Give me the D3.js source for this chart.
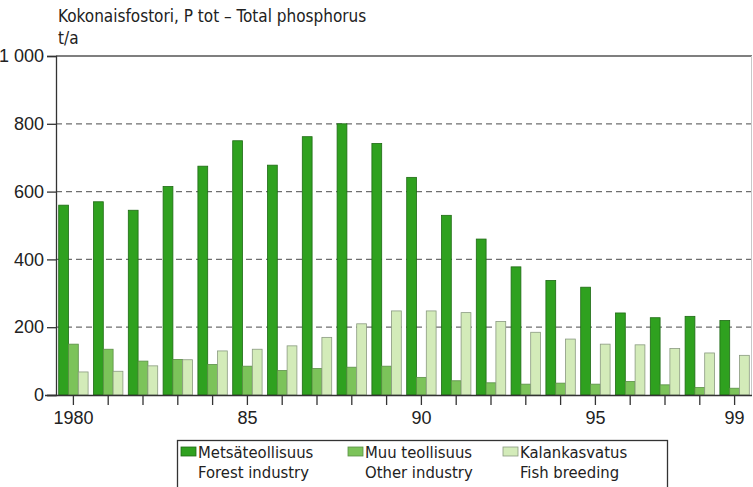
<!DOCTYPE html>
<html>
<head>
<meta charset="utf-8">
<script src="https://cdn.jsdelivr.net/npm/d3@7"></script>
<style>
  body { margin: 0; background: #fff; }
  svg { display: block; font-family: "Liberation Sans Narrow", "DejaVu Sans Condensed", "Roboto Condensed", sans-serif; }
</style>
</head>
<body>
<div id="chart"></div>
<script>
// data
const years = d3.range(1980, 2000);
const yearLabels = {1980: "1980", 1985: "85", 1990: "90", 1995: "95", 1999: "99"};
const forest = [560, 570, 545, 615, 675, 750, 678, 762, 800, 742, 642, 530, 460, 378, 338, 318, 242, 228, 232, 220];
const other = [150, 135, 100, 105, 90, 85, 72, 78, 82, 85, 52, 42, 36, 32, 35, 32, 40, 30, 22, 20];
const fish = [68, 70, 86, 104, 130, 135, 145, 170, 210, 248, 248, 243, 217, 185, 165, 150, 148, 137, 124, 117];
const yTicks = [0, 200, 400, 600, 800, 1000];
const seriesNames = ["forest", "other", "fish"];
const legendLines = [
  ["Metsäteollisuus", "Forest industry"],
  ["Muu teollisuus", "Other industry"],
  ["Kalankasvatus", "Fish breeding"]
];

const width = 753, height = 487;
const margin = {left: 56, right: 1, top: 56, bottom: 92};

const colors = {forest: "#2fa11f", other: "#7cc35a", fish: "#d3ebb9"};
const strokes = {forest: "#1f6a14", other: "#5a8f45", fish: "#8a9a80"};

const svg = d3.select("#chart").append("svg")
  .attr("width", width)
  .attr("height", height);

const x = d3.scaleBand()
  .domain(years)
  .range([margin.left, width - margin.right])
  .paddingInner(0.155)
  .paddingOuter(0.0775);

const x1 = d3.scaleBand()
  .domain(seriesNames)
  .range([0, x.bandwidth()]);

const y = d3.scaleLinear()
  .domain([0, 1000])
  .range([height - margin.bottom, margin.top]);

// grid lines
svg.append("g")
  .selectAll("line")
  .data(yTicks.filter(d => d > 0 && d < 1000))
  .join("line")
    .attr("x1", margin.left)
    .attr("x2", width - margin.right)
    .attr("y1", d => y(d))
    .attr("y2", d => y(d))
    .attr("stroke", "#6f6f6f")
    .attr("stroke-width", 1.3)
    .attr("stroke-dasharray", "6,4");

// top line and right frame
svg.append("line")
  .attr("x1", margin.left).attr("x2", width - margin.right)
  .attr("y1", y(1000)).attr("y2", y(1000))
  .attr("stroke", "#555").attr("stroke-width", 1.3);
svg.append("line")
  .attr("x1", width - margin.right - 0.5).attr("x2", width - margin.right - 0.5)
  .attr("y1", y(1000)).attr("y2", y(0))
  .attr("stroke", "#c8c8c8").attr("stroke-width", 1);

// bars
const rows = years.map((yr, i) => ({year: yr, forest: forest[i], other: other[i], fish: fish[i]}));

svg.append("g")
  .selectAll("g")
  .data(rows)
  .join("g")
    .attr("transform", d => `translate(${x(d.year)},0)`)
  .selectAll("rect")
  .data(d => seriesNames.map(k => ({key: k, value: d[k]})))
  .join("rect")
    .attr("x", d => x1(d.key))
    .attr("width", x1.bandwidth())
    .attr("y", d => y(d.value))
    .attr("height", d => y(0) - y(d.value))
    .attr("fill", d => colors[d.key])
    .attr("stroke", d => strokes[d.key])
    .attr("stroke-width", 0.8);

// y axis
const yAxis = svg.append("g")
  .attr("transform", `translate(${margin.left},0)`)
  .call(d3.axisLeft(y).tickValues(yTicks).tickSize(9).tickPadding(3)
    .tickFormat(d => d === 1000 ? "1 000" : d));
yAxis.select(".domain").attr("stroke", "#333").attr("stroke-width", 1.3);
yAxis.selectAll(".tick line").attr("stroke", "#333").attr("stroke-width", 1.3);
yAxis.selectAll("text").attr("font-size", "18px").attr("fill", "#222")
  .attr("font-family", "inherit");

// x axis
const xAxis = svg.append("g")
  .attr("transform", `translate(0,${y(0)})`)
  .call(d3.axisBottom(x).tickSize(10).tickPadding(6)
    .tickFormat(d => yearLabels[d] || ""));
xAxis.select(".domain").attr("stroke", "#333").attr("stroke-width", 1.3)
  .attr("d", `M${margin.left - 11},0.5H${width - margin.right}`);
xAxis.selectAll(".tick line").attr("stroke", "#333").attr("stroke-width", 1.3);
xAxis.selectAll("text").attr("font-size", "18px").attr("fill", "#222")
  .attr("font-family", "inherit");

// titles
svg.append("text")
  .attr("x", 58).attr("y", 22)
  .attr("font-size", "17px").attr("fill", "#222")
  .text("Kokonaisfostori, P tot – Total phosphorus");
svg.append("text")
  .attr("x", 58).attr("y", 44)
  .attr("font-size", "17px").attr("fill", "#222")
  .text("t/a");

// legend
const legend = svg.append("g");
legend.append("rect")
  .attr("x", 177.5).attr("y", 440.5)
  .attr("width", 490).attr("height", 60)
  .attr("fill", "none").attr("stroke", "#333").attr("stroke-width", 1.3);

const legendX = [181, 348, 503];
seriesNames.forEach((k, i) => {
  legend.append("rect")
    .attr("x", legendX[i]).attr("y", 447)
    .attr("width", 15).attr("height", 9)
    .attr("fill", colors[k]).attr("stroke", strokes[k]).attr("stroke-width", 0.8);
  legend.append("text")
    .attr("x", legendX[i] + 17).attr("y", 458)
    .attr("font-size", "16.5px").attr("fill", "#222")
    .text(legendLines[i][0]);
  legend.append("text")
    .attr("x", legendX[i] + 17).attr("y", 478)
    .attr("font-size", "16.5px").attr("fill", "#222")
    .text(legendLines[i][1]);
});
</script>
</body>
</html>
